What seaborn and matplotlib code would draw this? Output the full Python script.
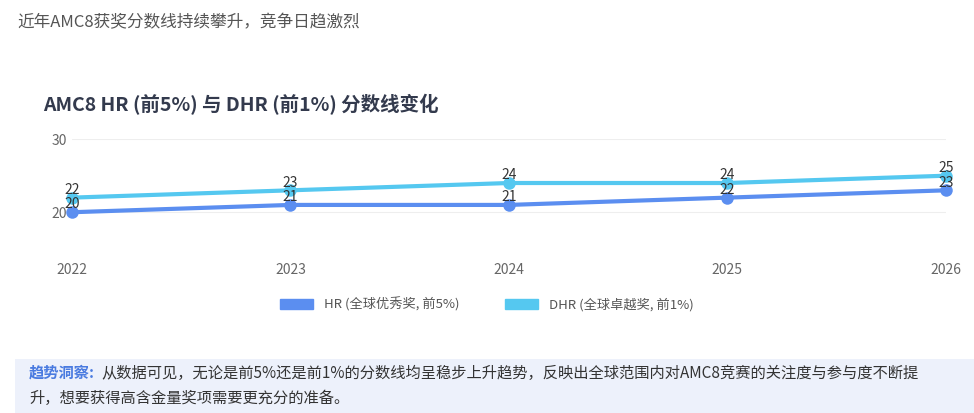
import matplotlib.pyplot as plt
import seaborn as sns
import pandas as pd
from matplotlib.patches import Rectangle, Patch

years = ['2022', '2023', '2024', '2025', '2026']
hr = [20, 21, 21, 22, 23]
dhr = [22, 23, 24, 24, 25]
hr_name = 'HR (全球优秀奖, 前5%)'
dhr_name = 'DHR (全球卓越奖, 前1%)'

sns.set_style('white')
plt.rcParams['font.family'] = ['Noto Sans CJK SC', 'DejaVu Sans']

df = pd.DataFrame({'year': years * 2, 'score': hr + dhr,
                   'series': [hr_name] * 5 + [dhr_name] * 5})

fig = plt.figure(figsize=(9.74, 4.13), dpi=100)
fig.patch.set_facecolor('white')
fig.text(0.018, 0.935, '近年AMC8获奖分数线持续攀升，竞争日趋激烈', fontsize=12, color='#555555')
fig.text(0.044, 0.73, 'AMC8 HR (前5%) 与 DHR (前1%) 分数线变化', fontsize=14,
         fontweight='bold', color='#333a4d')

ax = fig.add_axes([0.074, 0.38, 0.897, 0.283])
colors = {hr_name: '#5b8ef0', dhr_name: '#55c8f0'}
sns.lineplot(data=df, x='year', y='score', hue='series', palette=colors, marker='o',
             markersize=9, markeredgewidth=0, linewidth=3, ax=ax, legend=False, sort=False)
for line in ax.lines:
    line.set_clip_on(False)
for i, y in enumerate(years):
    ax.text(i, hr[i] + 0.1, str(hr[i]), ha='center', va='bottom', fontsize=10, color='#333333')
    ax.text(i, dhr[i] + 0.1, str(dhr[i]), ha='center', va='bottom', fontsize=10, color='#333333')

ax.set_ylim(14, 30)
ax.set_yticks([20, 30])
ax.set_xlim(0, 4)
ax.set_xlabel('')
ax.set_ylabel('')
ax.grid(axis='y', color='#eeeeee')
for s in ax.spines.values():
    s.set_visible(False)
ax.tick_params(axis='both', length=0, labelsize=10, colors='#666666')
ax.tick_params(axis='x', pad=5)

fig.legend(handles=[Patch(color=colors[hr_name], label=hr_name),
                    Patch(color=colors[dhr_name], label=dhr_name)],
           loc='center', bbox_to_anchor=(0.5, 0.263), ncol=2, frameon=False,
           fontsize=9.5, handlelength=2.5, handleheight=0.9, columnspacing=3.5, labelcolor='#555555')

fig.patches.append(Rectangle((0.015, 0.0), 0.985, 0.13, transform=fig.transFigure,
                             facecolor='#edf1fb', edgecolor='none'))
fig.text(0.03, 0.085, '趋势洞察:', fontsize=11, fontweight='bold', color='#4a7be0')
fig.text(0.104, 0.085, '从数据可见，无论是前5%还是前1%的分数线均呈稳步上升趋势，反映出全球范围内对AMC8竞赛的关注度与参与度不断提',
         fontsize=11, color='#333333')
fig.text(0.03, 0.025, '升，想要获得高含金量奖项需要更充分的准备。', fontsize=11, color='#333333')

fig.savefig('out.png', dpi=100)
